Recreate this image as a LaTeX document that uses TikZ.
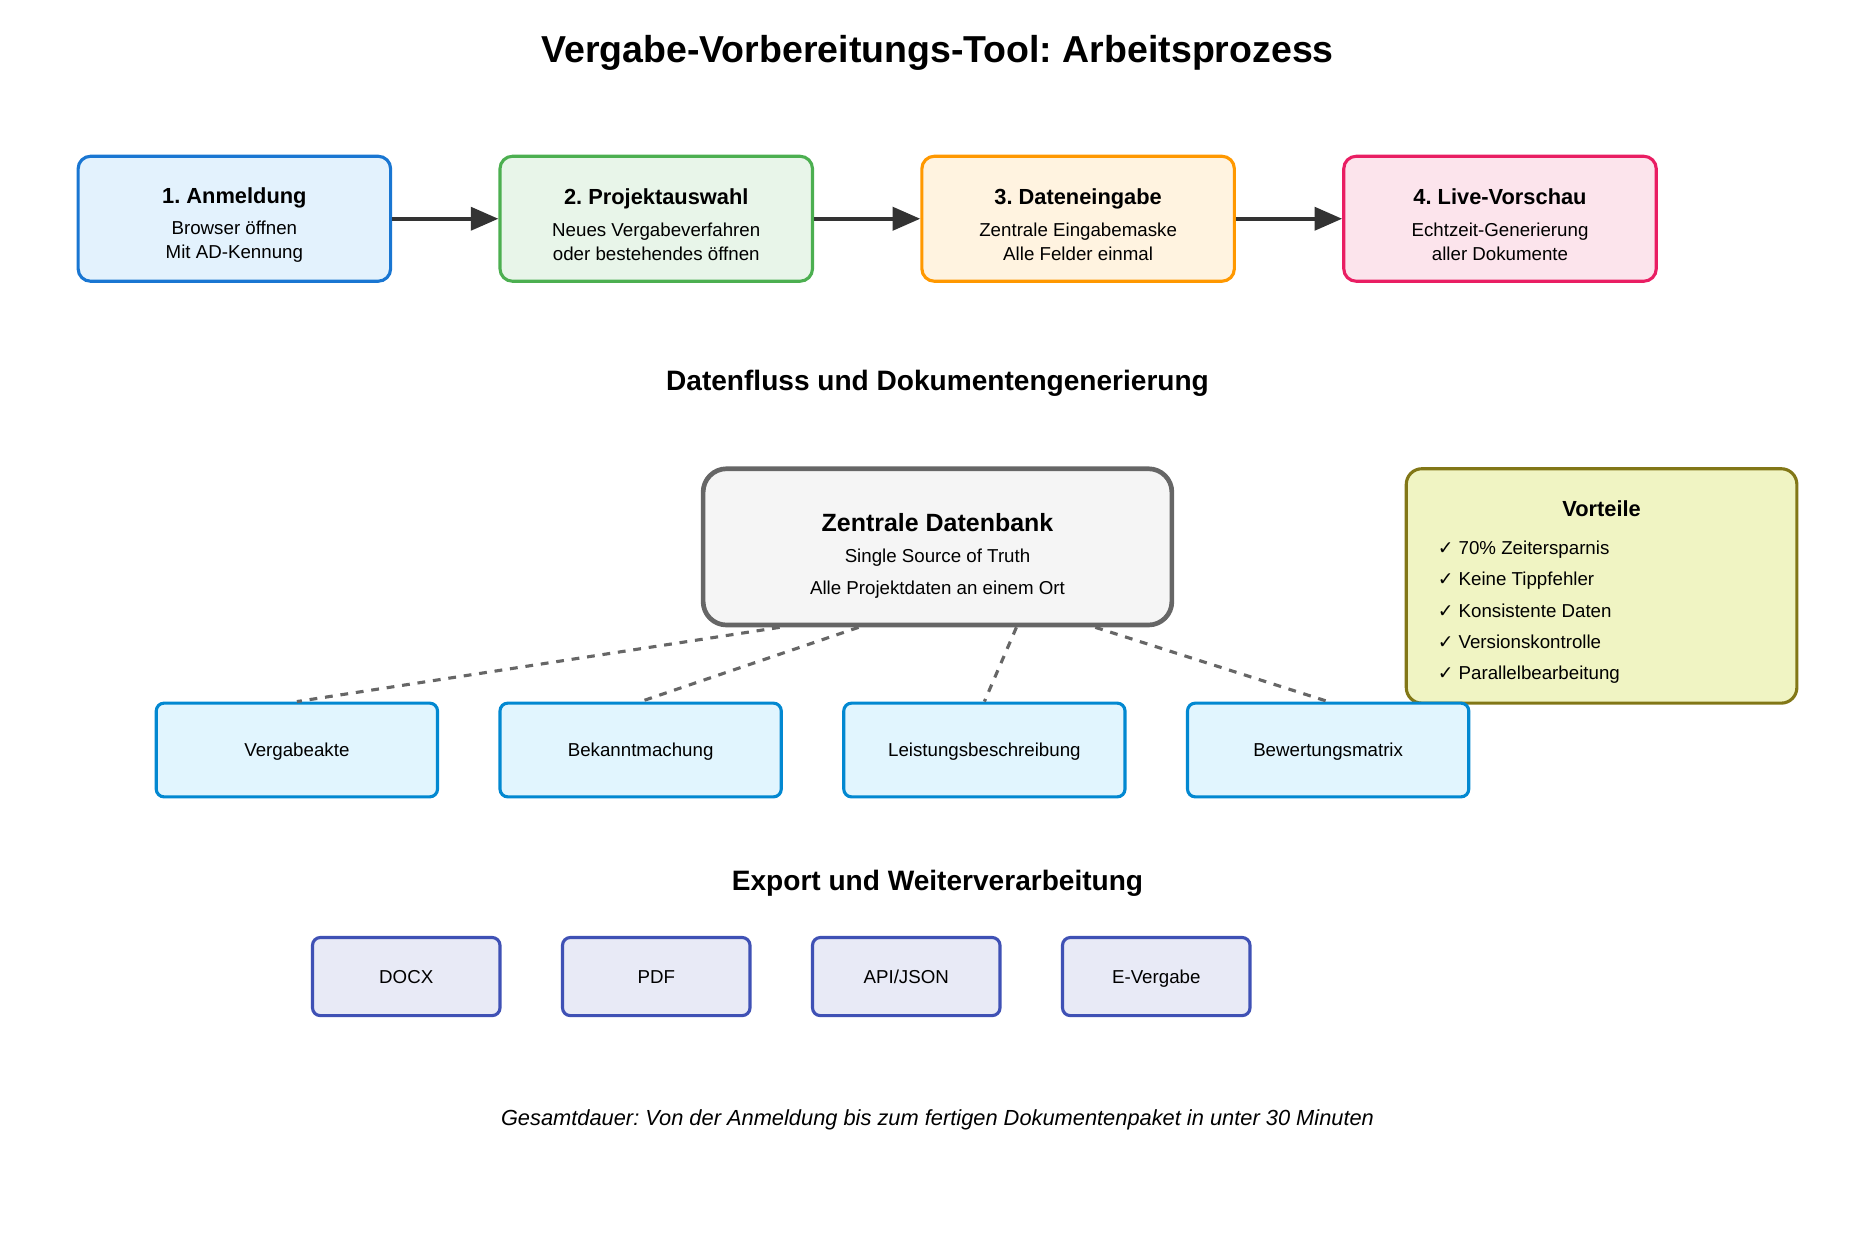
\documentclass[tikz,border=0pt]{standalone}
\usepackage{fontspec}
\setmainfont{Liberation Sans}
\newfontfamily\checkfont{DejaVu Sans}
\usetikzlibrary{arrows.meta, calc, positioning}
\frenchspacing
\definecolor{anmd}{HTML}{1976D2}
\definecolor{anml}{HTML}{E3F2FD}
\definecolor{prjd}{HTML}{4CAF50}
\definecolor{prjl}{HTML}{E8F5E9}
\definecolor{datd}{HTML}{FF9800}
\definecolor{datl}{HTML}{FFF3E0}
\definecolor{livd}{HTML}{E91E63}
\definecolor{livl}{HTML}{FCE4EC}
\definecolor{dbd}{HTML}{666666}
\definecolor{dbl}{HTML}{F5F5F5}
\definecolor{vord}{HTML}{827717}
\definecolor{vorl}{HTML}{F0F4C3}
\definecolor{docd}{HTML}{0288D1}
\definecolor{docl}{HTML}{E1F5FE}
\definecolor{expd}{HTML}{3F51B5}
\definecolor{expl}{HTML}{E8EAF6}
\definecolor{pfeil}{HTML}{333333}

\begin{document}
\begin{tikzpicture}[x=1.3025pt, y=-1.3025pt,
    stepbox/.style={draw, line width=2.6pt, rounded corners=10.4pt, minimum width=260.5pt, minimum height=104.2pt, align=center, inner sep=0pt, font=\fontsize{15.6}{19.5}\selectfont},
    docbox/.style={draw=docd, fill=docl, line width=2.6pt, rounded corners=6.5pt, minimum width=234.45pt, minimum height=78.15pt, inner sep=0pt, text height=14pt, text depth=3.2pt, font=\fontsize{15.6}{20}\selectfont},
    exportbox/.style={draw=expd, fill=expl, line width=2.6pt, rounded corners=6.5pt, minimum width=156.3pt, minimum height=65.1pt, inner sep=0pt, text height=14pt, text depth=3.2pt, font=\fontsize{15.6}{20}\selectfont},
    heading/.style={font=\bfseries\fontsize{23.4}{28}\selectfont, inner sep=0pt, anchor=base},
    flow/.style={-{Triangle[length=23pt, width=19pt]}, line width=3.6pt, draw=pfeil},
    link/.style={draw=dbd, line width=2.6pt, dash pattern=on 6.5pt off 6.5pt}]
    \useasboundingbox (0,0) rectangle (1200,800);

    \node[font=\bfseries\fontsize{31.26}{37}\selectfont, inner sep=0pt, anchor=base] (titel) at (600,40) {Vergabe-Vorbereitungs-Tool: Arbeitsprozess};

    % Arbeitsschritte
    \node[stepbox, draw=anmd, fill=anml] (s1) at (150,140) {{\bfseries\fontsize{18.2}{22}\selectfont\rule{0pt}{23pt}1. Anmeldung}\\[7pt] Browser öffnen\\ Mit AD-Kennung};
    \node[stepbox, draw=prjd, fill=prjl] (s2) at (420,140) {{\bfseries\fontsize{18.2}{22}\selectfont\rule{0pt}{23pt}2. Projektauswahl}\\[7pt] Neues Vergabeverfahren\\ oder bestehendes öffnen};
    \node[stepbox, draw=datd, fill=datl] (s3) at (690,140) {{\bfseries\fontsize{18.2}{22}\selectfont\rule{0pt}{23pt}3. Dateneingabe}\\[7pt] Zentrale Eingabemaske\\ Alle Felder einmal};
    \node[stepbox, draw=livd, fill=livl] (s4) at (960,140) {{\bfseries\fontsize{18.2}{22}\selectfont\rule{0pt}{23pt}4. Live-Vorschau}\\[7pt] Echtzeit-Generierung\\ aller Dokumente};
    \draw[flow] (s1) -- (s2);
    \draw[flow] (s2) -- (s3);
    \draw[flow] (s3) -- (s4);

    \node[heading] (fluss) at (600,250) {Datenfluss und Dokumentengenerierung};

    % Datenbank und Vorteile
    \node[draw=dbd, fill=dbl, line width=3.9pt, rounded corners=19.5pt, minimum width=390.75pt, minimum height=130.25pt, align=center, inner sep=0pt, font=\fontsize{15.6}{26}\selectfont] (db) at (600,350) {{\bfseries\fontsize{20.8}{25}\selectfont\rule{0pt}{30pt}Zentrale Datenbank}\\[0pt] Single Source of Truth\\ Alle Projektdaten an einem Ort};
    \node[draw=vord, fill=vorl, line width=2.6pt, rounded corners=13pt, minimum width=325.6pt, minimum height=195.4pt, inner sep=0pt] (vor) at (1025,375) {};
    \node[font=\bfseries\fontsize{18.2}{22}\selectfont, inner sep=0pt] (vortitel) at (1025,325.8) {Vorteile};
    \node[anchor=west, align=left, inner sep=0pt, font=\fontsize{15.6}{26}\selectfont] (vorliste) at (920,391.9) {{\checkfont ✓} 70\% Zeitersparnis\\ {\checkfont ✓} Keine Tippfehler\\ {\checkfont ✓} Konsistente Daten\\ {\checkfont ✓} Versionskontrolle\\ {\checkfont ✓} Parallelbearbeitung};

    % Dokumente
    \node[docbox] (d1) at (190,480) {Vergabeakte};
    \node[docbox] (d2) at (410,480) {Bekanntmachung};
    \node[docbox] (d3) at (630,480) {Leistungsbeschreibung};
    \node[docbox] (d4) at (850,480) {Bewertungsmatrix};
    \draw[link] ($(db.south west)!0.1667!(db.south east)$) -- (d1.north);
    \draw[link] ($(db.south west)!0.3333!(db.south east)$) -- (d2.north);
    \draw[link] ($(db.south west)!0.6667!(db.south east)$) -- (d3.north);
    \draw[link] ($(db.south west)!0.8333!(db.south east)$) -- (d4.north);

    \node[heading] (export) at (600,570) {Export und Weiterverarbeitung};

    % Exportformate
    \node[exportbox] (e1) at (260,625) {DOCX};
    \node[exportbox] (e2) at (420,625) {PDF};
    \node[exportbox] (e3) at (580,625) {API/JSON};
    \node[exportbox] (e4) at (740,625) {E-Vergabe};

    \node[font=\itshape\fontsize{18.2}{22}\selectfont, inner sep=0pt, anchor=base] (dauer) at (600,720) {Gesamtdauer: Von der Anmeldung bis zum fertigen Dokumentenpaket in unter 30 Minuten};
\end{tikzpicture}
\end{document}
